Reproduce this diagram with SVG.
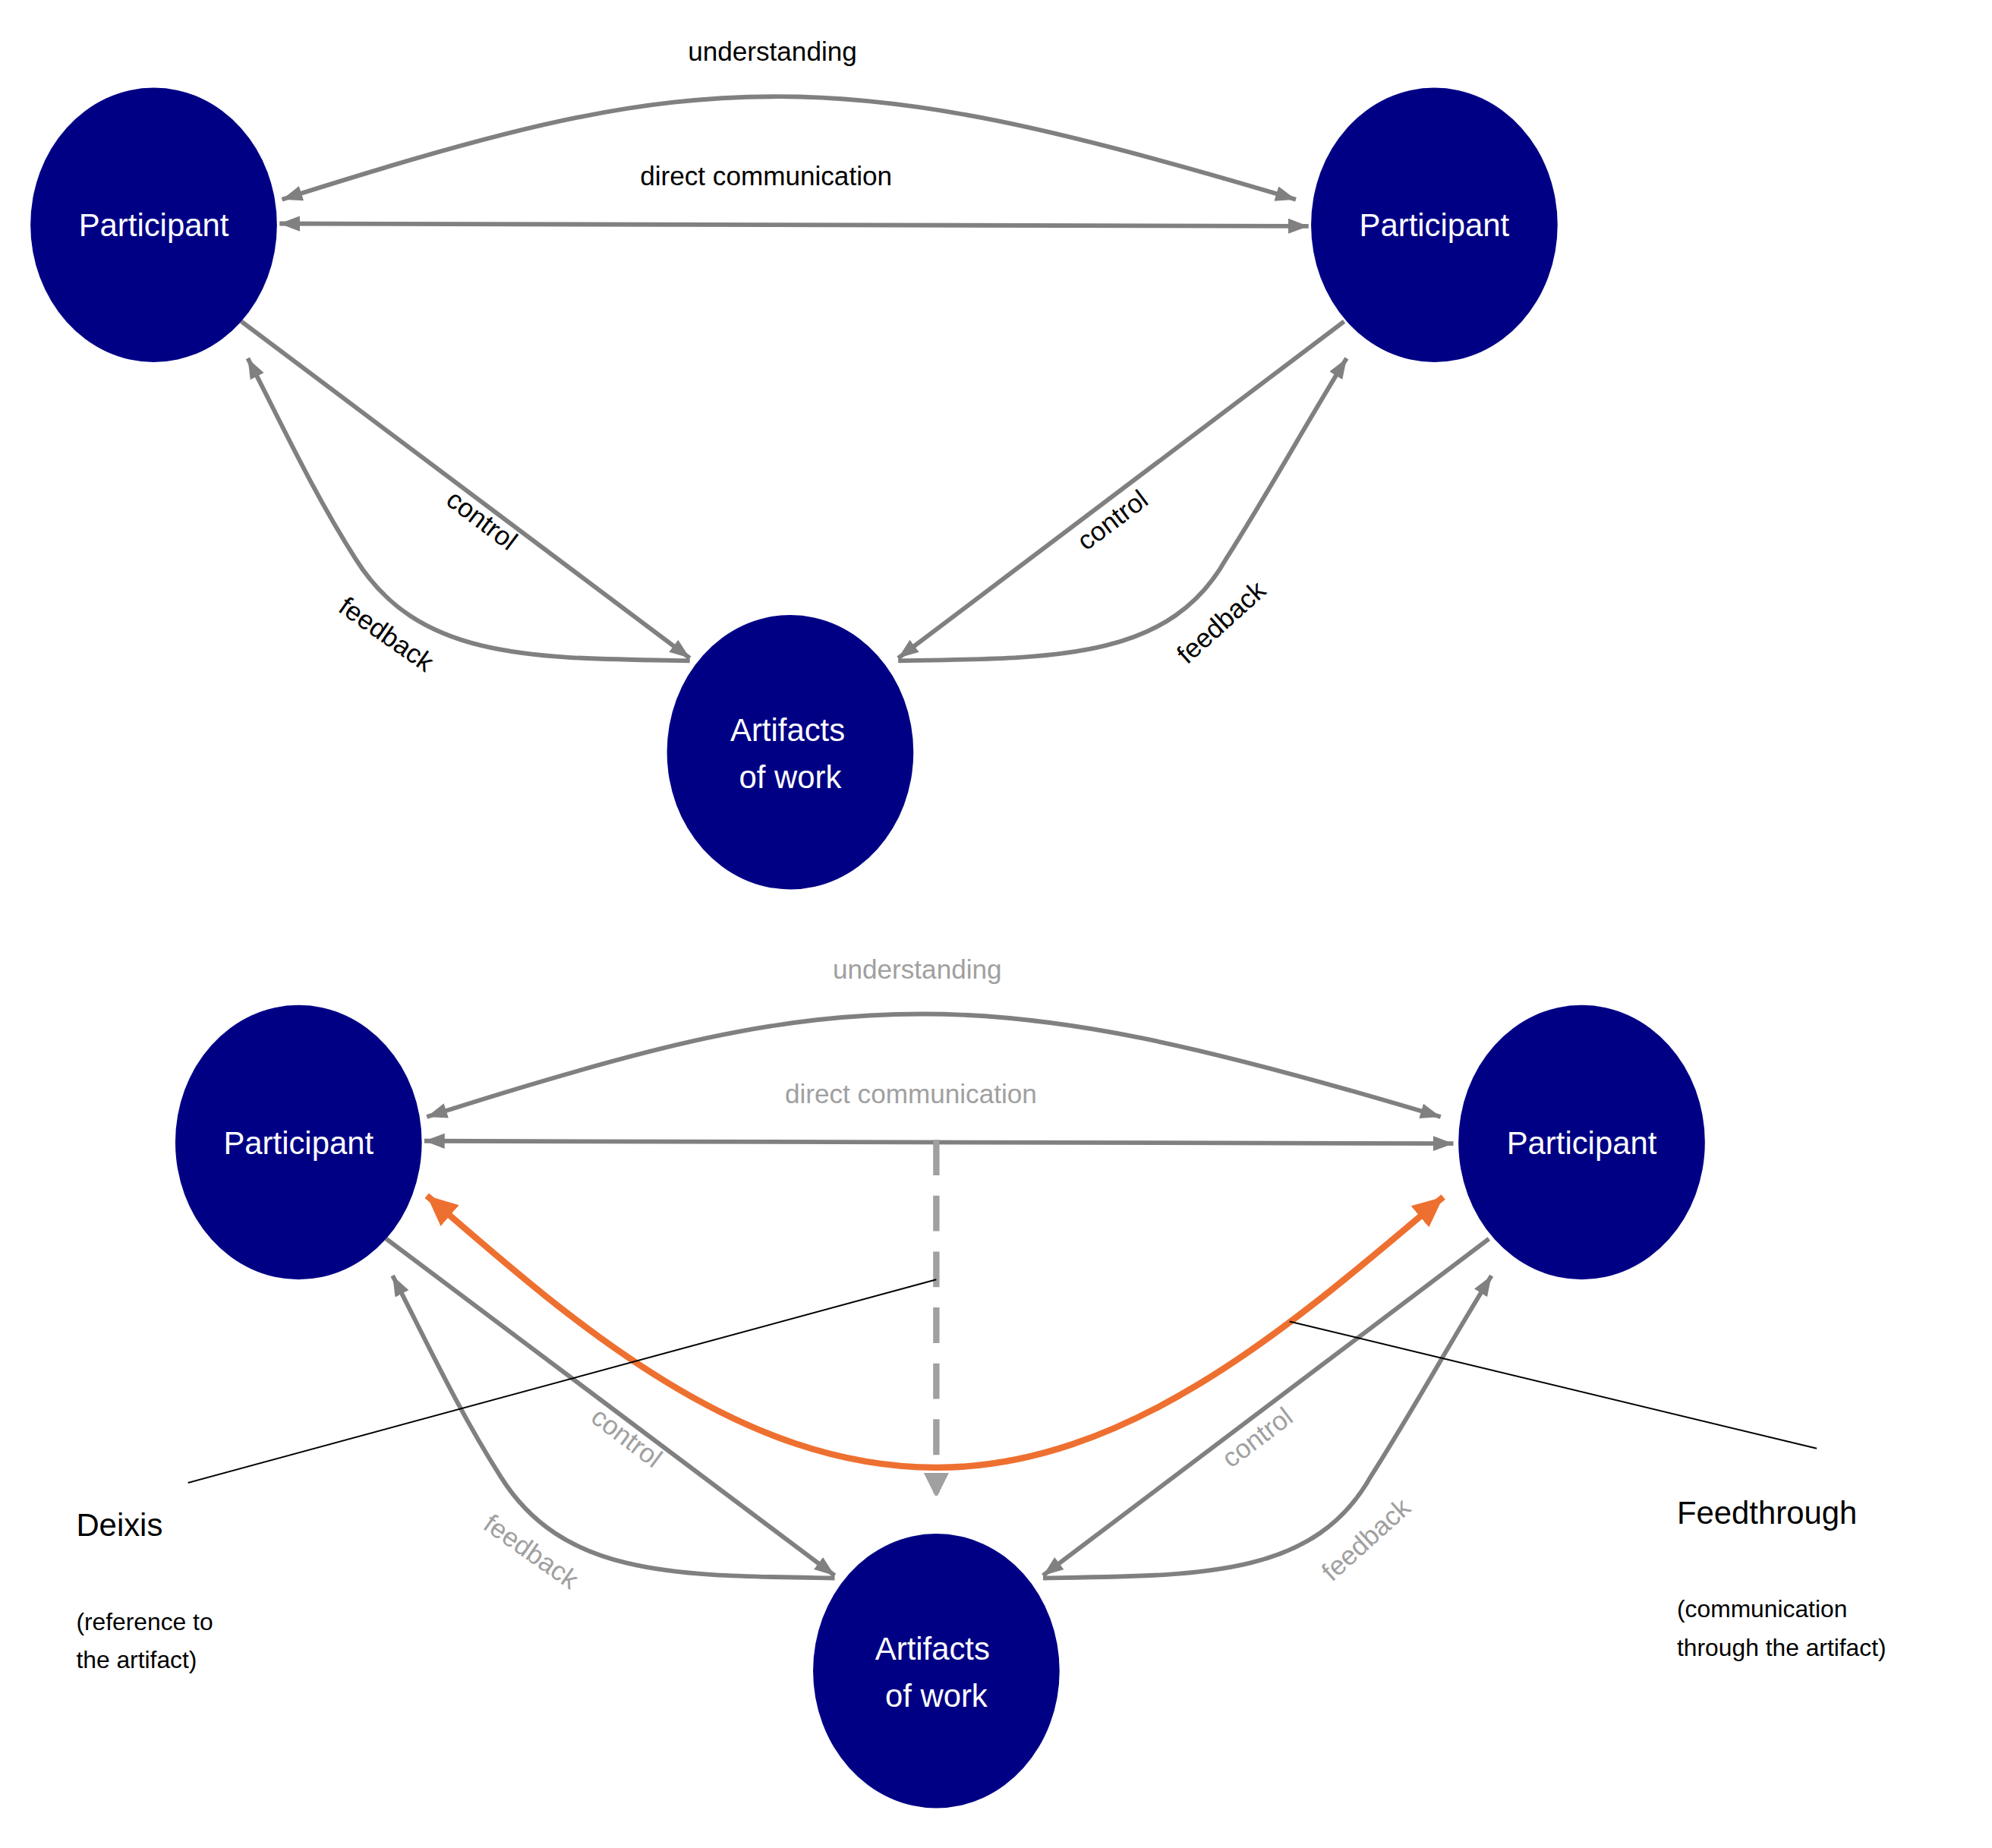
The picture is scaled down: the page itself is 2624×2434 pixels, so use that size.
<svg xmlns="http://www.w3.org/2000/svg" width="2624" height="2434" viewBox="0 0 2624 2434">
<defs>
<style>
.e{fill:none;stroke:#808080;stroke-width:3.5}
.n{fill:#000085}
.nt{fill:#fff;font-family:"Liberation Sans",Arial,sans-serif;font-size:25px;text-anchor:middle}
.l{fill:#000;font-family:"Liberation Sans",Arial,sans-serif;font-size:21px;text-anchor:middle}
.g{fill:#a0a0a0}
.a{font-family:"Liberation Sans",Arial,sans-serif;fill:#000}
</style>
<marker id="ar" markerUnits="userSpaceOnUse" markerWidth="18" markerHeight="14" refX="16" refY="6" orient="auto-start-reverse"><path d="M0,0 L16,6 L0,12 z" fill="#808080"/></marker>
<marker id="ad" markerUnits="userSpaceOnUse" markerWidth="18" markerHeight="24" refX="16" refY="10" orient="auto"><path d="M0,0 L20,10 L0,20 z" fill="#a0a0a0"/></marker>
<marker id="ao" markerUnits="userSpaceOnUse" markerWidth="28" markerHeight="24" refX="24" refY="11" orient="auto-start-reverse"><path d="M0,0 L24,11 L0,22 z" fill="#ee7030"/></marker>
</defs>
<g transform="scale(1.6735)">
<g id="connectors">
<path class="e" d="M222,157 C400,100 500,76 612,76 C720,76 830,100 1020,157" marker-start="url(#ar)" marker-end="url(#ar)"/>
<path class="e" d="M220,176 L1030,178" marker-start="url(#ar)" marker-end="url(#ar)"/>
<path class="e" d="M190,253 L543,518" marker-end="url(#ar)"/>
<path class="e" d="M543,520 C420,518 330,520 280,440 C245,385 220,330 195,282" marker-end="url(#ar)"/>
<path class="e" d="M1058,253 L707,518" marker-end="url(#ar)"/>
<path class="e" d="M707,520 C830,518 920,520 965,440 C1000,385 1030,330 1060,282" marker-end="url(#ar)"/>
<text class="l" x="608" y="48">understanding</text>
<text class="l" x="603" y="146">direct communication</text>
<text class="l" transform="translate(375,415) rotate(37)">control</text>
<text class="l" transform="translate(300,505) rotate(35)">feedback</text>
<text class="l" transform="translate(880,415) rotate(-37)">control</text>
<text class="l" transform="translate(966,495) rotate(-42)">feedback</text>
<g transform="translate(114,722)">
<path class="e" d="M222,157 C400,100 500,76 612,76 C720,76 830,100 1020,157" marker-start="url(#ar)" marker-end="url(#ar)"/>
<path class="e" d="M220,176 L1030,178" marker-start="url(#ar)" marker-end="url(#ar)"/>
<path class="e" d="M190,253 L543,518" marker-end="url(#ar)"/>
<path class="e" d="M543,520 C420,518 330,520 280,440 C245,385 220,330 195,282" marker-end="url(#ar)"/>
<path class="e" d="M1058,253 L707,518" marker-end="url(#ar)"/>
<path class="e" d="M707,520 C830,518 920,520 965,440 C1000,385 1030,330 1060,282" marker-end="url(#ar)"/>
<text class="l g" x="608" y="48">understanding</text>
<text class="l g" x="603" y="146">direct communication</text>
<text class="l g" transform="translate(375,415) rotate(37)">control</text>
<text class="l g" transform="translate(300,505) rotate(35)">feedback</text>
<text class="l g" transform="translate(880,415) rotate(-37)">control</text>
<text class="l g" transform="translate(966,495) rotate(-42)">feedback</text>
</g>
<path d="M737,897 L737,1175" fill="none" stroke="#a0a0a0" stroke-width="5" stroke-dasharray="28,16" marker-end="url(#ad)"/>
<path d="M336,941 C450,1040 580,1155 737,1155 C890,1155 1020,1040 1136,942" fill="none" stroke="#ee7030" stroke-width="5" marker-start="url(#ao)" marker-end="url(#ao)"/>
<path d="M148,1167 L737,1007" stroke="#000" stroke-width="1.2"/>
<path d="M1015,1040 L1430,1140" stroke="#000" stroke-width="1.2"/>
</g>
<g id="n1"><ellipse class="n" cx="121" cy="177" rx="97" ry="108"/><text class="nt" x="121" y="186">Participant</text></g>
<g id="n2"><ellipse class="n" cx="1129" cy="177" rx="97" ry="108"/><text class="nt" x="1129" y="186">Participant</text></g>
<g id="n3"><ellipse class="n" cx="622" cy="592" rx="97" ry="108"/><text class="nt" x="620" y="583">Artifacts</text><text class="nt" x="622" y="620">of work</text></g>
<g id="n4"><ellipse class="n" cx="235" cy="899" rx="97" ry="108"/><text class="nt" x="235" y="908">Participant</text></g>
<g id="n5"><ellipse class="n" cx="1245" cy="899" rx="97" ry="108"/><text class="nt" x="1245" y="908">Participant</text></g>
<g id="n6"><ellipse class="n" cx="737" cy="1315" rx="97" ry="108"/><text class="nt" x="734" y="1306">Artifacts</text><text class="nt" x="737" y="1343">of work</text></g>
<g id="deixis"><text class="a" x="60" y="1209" font-size="25">Deixis</text><text class="a" x="60" y="1283" font-size="19">(reference to</text><text class="a" x="60" y="1313" font-size="19">the artifact)</text></g>
<g id="feedthrough"><text class="a" x="1320" y="1199" font-size="25">Feedthrough</text><text class="a" x="1320" y="1273" font-size="19">(communication</text><text class="a" x="1320" y="1303" font-size="19">through the artifact)</text></g>
</g>
</svg>
